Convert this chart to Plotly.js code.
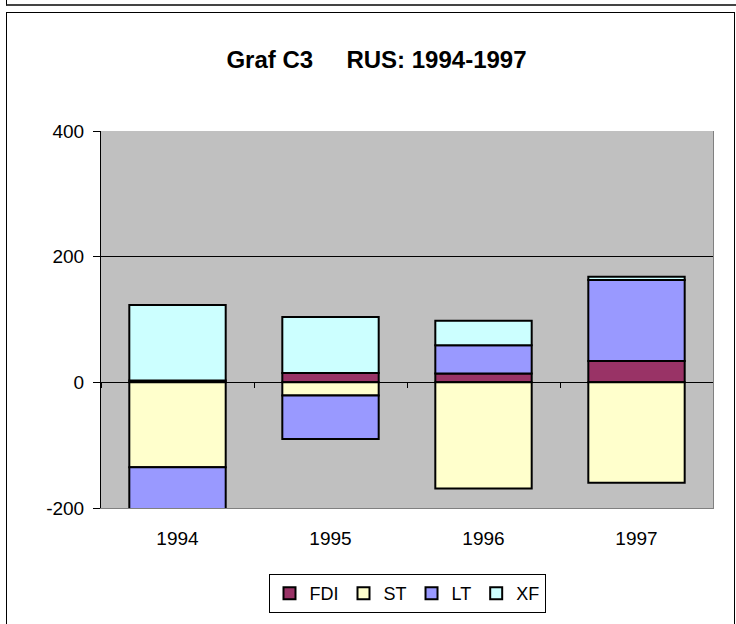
<!DOCTYPE html>
<html><head><meta charset="utf-8">
<script src="https://cdn.plot.ly/plotly-3.0.1.min.js"></script>
<style>
html,body{margin:0;padding:0;background:#fff;}
#wrap{position:relative;width:736px;height:624px;overflow:hidden;}
#chart{position:absolute;left:0;top:0;width:736px;height:624px;}
.fr{position:absolute;pointer-events:none;box-sizing:border-box;}
</style></head>
<body>
<div id="wrap">
<div id="chart"></div>
<div class="fr" style="left:6px;top:-10px;width:731px;height:16px;border:1px solid #000;border-bottom:2px solid #444;"></div>
<div class="fr" style="left:6px;top:12px;width:729px;height:620px;border:1px solid #000;"></div>
</div>
<script>
const years = ['1994','1995','1996','1997'];
const FDI = [3, 15, 14, 34];
const ST  = [-135, -21, -169, -160];
const LT  = [-69, -69, 45, 129];
const XF  = [120, 89, 39, 5];
const seriesNames = ['FDI','ST','LT','XF'];
const seriesColors = ['#993366','#FFFFCC','#9999FF','#CCFFFF'];
const yTicks = [400, 200, 0, -200];
const yTickText = ['400', '200', '0', '-200'];

const font = "Liberation Sans, Arial, sans-serif";
const data = [FDI, ST, LT, XF].map((vals, i) => ({
  type: 'bar', x: years, y: vals, name: seriesNames[i],
  marker: {color: seriesColors[i], line: {color: '#000', width: 2}},
  hoverinfo: 'skip'
}));
// helper trace so the overlay axes (zero line with ticks, 200 gridline, right frame) are drawn
data.push({type: 'scatter', x: [null], y: [null], xaxis: 'x2', yaxis: 'y2', showlegend: false, hoverinfo: 'skip', mode: 'markers'});

const layout = {
  width: 736, height: 624,
  margin: {l: 101, r: 23, t: 131, b: 116, autoexpand: false},
  paper_bgcolor: '#fff', plot_bgcolor: '#C0C0C0',
  barmode: 'relative', bargap: 0.37,
  font: {family: font, size: 19, color: '#000'},
  title: {text: 'Graf C3\u00a0\u00a0\u00a0\u00a0\u00a0RUS: 1994-1997', font: {family: font, size: 24, color: '#000', weight: 'bold'},
          xref: 'container', x: 0.5115, xanchor: 'center', yref: 'container', y: 0.905, yanchor: 'middle'},
  xaxis: {type: 'category', showgrid: false, zeroline: false, showline: true, linecolor: '#808080', linewidth: 1,
          ticks: 'outside', ticklen: 13, tickcolor: 'rgba(0,0,0,0)', tickfont: {family: font, size: 19}},
  xaxis2: {overlaying: 'x', anchor: 'free', position: 1/3, range: [-0.5, 3.5], showgrid: false, zeroline: false,
           showline: true, linecolor: '#000', linewidth: 1, ticks: 'outside', ticklen: 5, tickcolor: '#000',
           tickvals: [-0.5, 0.5, 1.5, 2.5, 3.5], showticklabels: false, layer: 'below traces'},
  yaxis: {range: [-200, 400], tickvals: yTicks, ticktext: yTickText, showgrid: false, zeroline: false, showline: true, linecolor: '#000',
          linewidth: 1, ticks: 'outside', ticklen: 7, tickcolor: '#000', tickfont: {family: font, size: 19}, ticklabelstandoff: 5},
  yaxis2: {overlaying: 'y', side: 'right', range: [-200, 400], tickvals: [200], showgrid: true, gridcolor: '#000',
           gridwidth: 1, zeroline: false, showline: true, linecolor: '#808080', ticks: '', showticklabels: false},
  legend: {orientation: 'h', x: 0.5, xanchor: 'center', y: -0.175, yanchor: 'top', bgcolor: '#fff',
           bordercolor: '#000', borderwidth: 1, font: {family: font, size: 18}, itemwidth: 30, traceorder: 'normal'},
  showlegend: true
};
Plotly.newPlot('chart', data, layout, {displayModeBar: false, staticPlot: true});
</script>
</body></html>
